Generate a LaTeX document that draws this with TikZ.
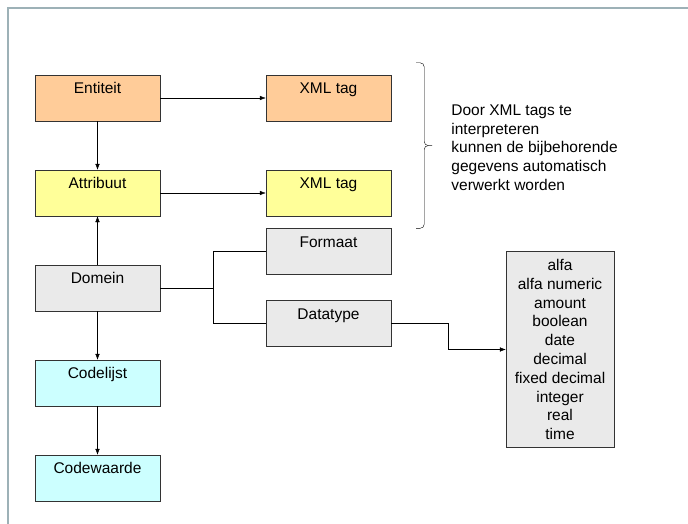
\documentclass[tikz,border=0pt]{standalone}
\usepackage{fontspec}
\setmainfont{Liberation Sans}
\usetikzlibrary{arrows.meta,calc}
\definecolor{entiteitkleur}{HTML}{FFCC99}
\definecolor{attribuutkleur}{HTML}{FFFF99}
\definecolor{domeinkleur}{HTML}{EAEAEA}
\definecolor{codekleur}{HTML}{CCFFFF}
\definecolor{kaderkleur}{HTML}{9DB1B7}
\begin{document}
\begin{tikzpicture}[node distance=95pt, x=1pt, y=1pt,
	font=\fontsize{15.5}{18.8}\selectfont,
	>={Latex[length=6pt,width=4.5pt]},
	blok/.style={draw=black!80, minimum width=125pt, minimum height=46pt, inner sep=0pt, text height=18.5pt, text depth=27.5pt}]
	\useasboundingbox (0,0) rectangle (688,-524);
	\draw[kaderkleur, line width=2pt] (7.5,-524) -- (7.5,-8.5) -- (688,-8.5);

	\node (entiteit) [blok, fill=entiteitkleur] at (97.5,-98) {Entiteit};
	\node (xmlentiteit) [blok, fill=entiteitkleur, node distance=231pt, right of=entiteit] {XML tag};
	\node (attribuut) [blok, fill=attribuutkleur, below of=entiteit] {Attribuut};
	\node (xmlattribuut) [blok, fill=attribuutkleur, node distance=231pt, right of=attribuut] {XML tag};
	\node (domein) [blok, fill=domeinkleur, below of=attribuut] {Domein};
	\node (codelijst) [blok, fill=codekleur, below of=domein] {Codelijst};
	\node (codewaarde) [blok, fill=codekleur, below of=codelijst] {Codewaarde};
	\node (formaat) [blok, fill=domeinkleur] at ([shift={(231,36.5)}]domein) {Formaat};
	\node (datatype) [blok, fill=domeinkleur] at ([shift={(231,-35.5)}]domein) {Datatype};
	\node (datatypen) [draw=black!80, fill=domeinkleur, minimum width=108pt, minimum height=196pt, align=center] at ([shift={(231.5,-26)}]datatype)
		{alfa\\alfa numeric\\amount\\boolean\\date\\decimal\\fixed decimal\\integer\\real\\time};

	% accolade rond de XML tags
	\coordinate (accoladeboven) at ([shift={(25,12)}]xmlentiteit.north east);
	\coordinate (accoladeonder) at ([xshift=25]formaat.north east);
	\coordinate (accoladepunt) at ($(accoladeboven)!0.5!(accoladeonder)+(16,0)$);
	\draw[rounded corners=4pt] (accoladeboven) -| ([xshift=-8]accoladepunt) -- (accoladepunt);
	\draw[rounded corners=4pt] (accoladeonder) -| ([xshift=-8]accoladepunt) -- (accoladepunt);
	\node (uitleg) [anchor=west, align=left, inner sep=0pt] at ([shift={(19,-2)}]accoladepunt)
		{Door XML tags te\\interpreteren\\kunnen de bijbehorende\\gegevens automatisch\\verwerkt worden};

	\draw[->] (entiteit) -- (xmlentiteit);
	\draw[->] (attribuut) -- (xmlattribuut);
	\draw[->] (entiteit) -- (attribuut);
	\draw[->] (domein) -- (attribuut);
	\draw[->] (domein) -- (codelijst);
	\draw[->] (codelijst) -- (codewaarde);

	\coordinate (splitsing) at ([xshift=53]domein.east);
	\draw (domein.east) -- (splitsing);
	\draw (formaat.west) -| (splitsing) |- (datatype.west);
	\draw[->] (datatype.east) -- ++(57,0) |- (datatypen.west);
\end{tikzpicture}
\end{document}
